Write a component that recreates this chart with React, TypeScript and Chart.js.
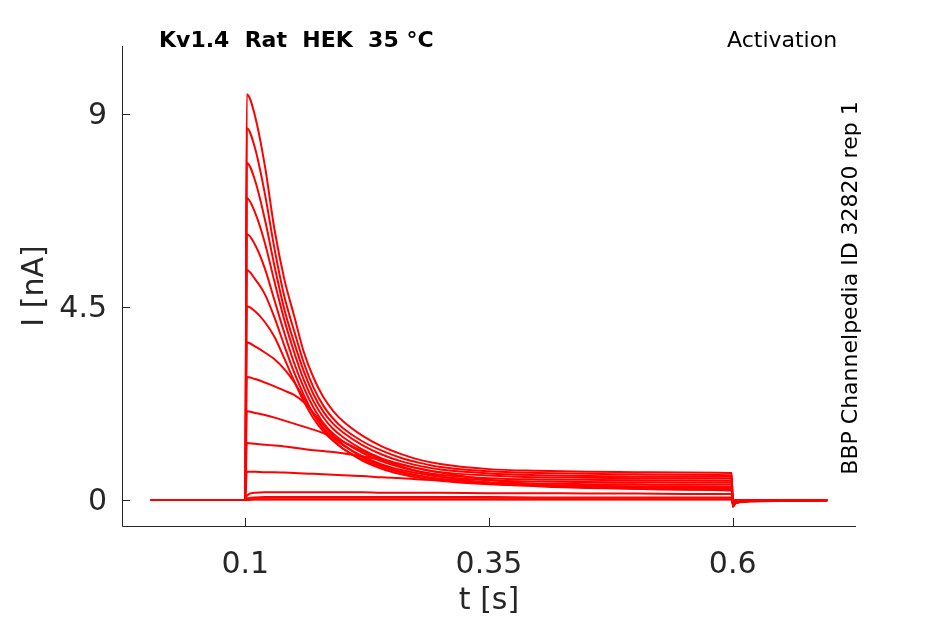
import { useEffect, useRef } from "react";
import { Chart, registerables } from "chart.js";

Chart.register(...registerables);

// sample times [s], shared by every sweep
const times = [
  0.003, 0.1, 0.1015, 0.11, 0.12, 0.13, 0.14, 0.15, 0.16, 0.17, 0.18, 0.19, 0.2,
  0.22, 0.24, 0.26, 0.28, 0.3, 0.35, 0.4, 0.45, 0.5, 0.55, 0.599, 0.6, 0.603,
  0.62, 0.697,
];

// current [nA] per voltage step
const sweepA = [0, 0, 9.46, 8.95, 7.8, 6.3, 5.15, 4.3, 3.45, 2.85, 2.4, 2.08, 1.84, 1.5, 1.25, 1.07, 0.93, 0.84, 0.72, 0.68, 0.66, 0.65, 0.64, 0.63, -0.16, -0.08, -0.03, -0.01];
const sweepB = [0, 0, 8.67, 8.2, 7.15, 5.85, 4.75, 3.95, 3.2, 2.62, 2.2, 1.9, 1.68, 1.37, 1.15, 0.98, 0.86, 0.77, 0.67, 0.63, 0.61, 0.6, 0.59, 0.58, -0.15, -0.07, -0.03, -0.01];
const sweepC = [0, 0, 7.86, 7.45, 6.55, 5.45, 4.45, 3.68, 3.0, 2.46, 2.06, 1.78, 1.58, 1.28, 1.06, 0.9, 0.79, 0.71, 0.62, 0.58, 0.56, 0.55, 0.545, 0.54, -0.14, -0.07, -0.03, -0.01];
const sweepD = [0, 0, 7.04, 6.7, 6.0, 5.08, 4.2, 3.45, 2.8, 2.3, 1.93, 1.66, 1.47, 1.18, 0.97, 0.83, 0.72, 0.65, 0.57, 0.53, 0.52, 0.51, 0.5, 0.5, -0.13, -0.06, -0.02, -0.01];
const sweepE = [0, 0, 6.2, 5.95, 5.4, 4.65, 3.9, 3.2, 2.62, 2.15, 1.8, 1.55, 1.37, 1.1, 0.9, 0.76, 0.66, 0.59, 0.51, 0.48, 0.47, 0.46, 0.455, 0.45, -0.12, -0.06, -0.02, -0.01];
const sweepF = [0, 0, 5.36, 5.15, 4.8, 4.25, 3.6, 2.98, 2.45, 2.0, 1.68, 1.45, 1.28, 1.02, 0.83, 0.7, 0.61, 0.54, 0.46, 0.43, 0.42, 0.415, 0.41, 0.41, -0.11, -0.05, -0.02, 0];
const sweepG = [0, 0, 4.52, 4.4, 4.15, 3.8, 3.3, 2.78, 2.3, 1.9, 1.6, 1.38, 1.2, 0.95, 0.77, 0.64, 0.55, 0.49, 0.41, 0.38, 0.37, 0.365, 0.36, 0.36, -0.1, -0.05, -0.02, 0];
const sweepH = [0, 0, 3.68, 3.58, 3.44, 3.28, 3.05, 2.75, 2.38, 2.0, 1.66, 1.4, 1.2, 0.92, 0.73, 0.6, 0.51, 0.45, 0.37, 0.34, 0.33, 0.32, 0.32, 0.31, -0.09, -0.04, -0.02, 0];
const sweepI = [0, 0, 2.87, 2.82, 2.74, 2.65, 2.55, 2.45, 2.28, 2.03, 1.75, 1.5, 1.3, 1.0, 0.8, 0.66, 0.56, 0.49, 0.38, 0.33, 0.3, 0.29, 0.28, 0.28, -0.08, -0.04, -0.01, 0];
const sweepJ = [0, 0, 2.07, 2.03, 1.98, 1.92, 1.85, 1.78, 1.71, 1.64, 1.56, 1.46, 1.36, 1.14, 0.94, 0.78, 0.65, 0.55, 0.4, 0.32, 0.28, 0.26, 0.25, 0.24, -0.07, -0.03, -0.01, 0];
const sweepK = [0, 0, 1.33, 1.31, 1.29, 1.27, 1.25, 1.22, 1.19, 1.16, 1.14, 1.12, 1.09, 1.02, 0.93, 0.83, 0.73, 0.64, 0.47, 0.36, 0.3, 0.26, 0.24, 0.22, -0.06, -0.03, -0.01, 0];
const sweepL = [0, 0, 0.66, 0.66, 0.65, 0.65, 0.64, 0.63, 0.62, 0.61, 0.6, 0.59, 0.58, 0.56, 0.53, 0.51, 0.48, 0.46, 0.4, 0.35, 0.31, 0.28, 0.26, 0.25, -0.05, -0.02, -0.01, 0];
const sweepM = [0, 0, 0.1, 0.17, 0.18, 0.18, 0.18, 0.18, 0.18, 0.18, 0.18, 0.18, 0.18, 0.18, 0.17, 0.17, 0.17, 0.17, 0.16, 0.16, 0.15, 0.15, 0.14, 0.14, -0.04, -0.02, -0.01, 0];
const sweepN = [0, 0, 0.03, 0.06, 0.07, 0.07, 0.07, 0.07, 0.07, 0.07, 0.07, 0.07, 0.07, 0.07, 0.07, 0.07, 0.07, 0.07, 0.07, 0.06, 0.06, 0.06, 0.06, 0.06, -0.03, -0.01, 0, 0];
const sweepO = [0, 0, 0.01, 0.02, 0.02, 0.02, 0.02, 0.02, 0.02, 0.02, 0.02, 0.02, 0.02, 0.02, 0.02, 0.02, 0.02, 0.02, 0.02, 0.02, 0.02, 0.02, 0.02, 0.02, -0.02, -0.01, 0, 0];
const sweepP = [0, 0, 0, 0.01, 0.01, 0.01, 0.01, 0.01, 0.01, 0.01, 0.01, 0.01, 0.01, 0.01, 0.01, 0.01, 0.01, 0.01, 0.01, 0.01, 0.01, 0.01, 0.01, 0.01, -0.01, 0, 0, 0];

const sweeps = [
  sweepA, sweepB, sweepC, sweepD, sweepE, sweepF, sweepG, sweepH,
  sweepI, sweepJ, sweepK, sweepL, sweepM, sweepN, sweepO, sweepP,
];

const xTicks = [0.1, 0.35, 0.6];
const xTickLabels = ["0.1", "0.35", "0.6"];
const yTicks = [0, 4.5, 9];
const yTickLabels = ["0", "4.5", "9"];

const AXIS = "#262626";
const FONT = "'DejaVu Sans', sans-serif";

// matlab-ish axes: inward ticks, no box, labels and side texts
const decorations = {
  id: "decorations",
  afterDraw(chart: any) {
    const { ctx, chartArea: a, scales } = chart;
    const xs = scales.x;
    const ys = scales.y;
    ctx.save();

    ctx.strokeStyle = AXIS;
    ctx.lineWidth = 1;
    ctx.beginPath();
    ctx.moveTo(a.left + 0.5, a.top);
    ctx.lineTo(a.left + 0.5, a.bottom + 0.5);
    ctx.lineTo(a.right, a.bottom + 0.5);
    xTicks.forEach((v) => {
      const px = Math.round(xs.getPixelForValue(v)) + 0.5;
      ctx.moveTo(px, a.bottom);
      ctx.lineTo(px, a.bottom - 8);
    });
    yTicks.forEach((v) => {
      const py = Math.round(ys.getPixelForValue(v)) + 0.5;
      ctx.moveTo(a.left, py);
      ctx.lineTo(a.left + 8, py);
    });
    ctx.stroke();

    ctx.fillStyle = AXIS;
    ctx.font = `30px ${FONT}`;
    ctx.textBaseline = "middle";
    ctx.textAlign = "right";
    yTicks.forEach((v, i) => {
      ctx.fillText(yTickLabels[i], a.left - 15, ys.getPixelForValue(v) + 2);
    });
    ctx.textBaseline = "alphabetic";
    ctx.textAlign = "center";
    xTicks.forEach((v, i) => {
      ctx.fillText(xTickLabels[i], xs.getPixelForValue(v), a.bottom + 47);
    });

    ctx.fillText("t [s]", (a.left + a.right) / 2, a.bottom + 83);
    ctx.save();
    ctx.translate(43, (a.top + a.bottom) / 2);
    ctx.rotate(-Math.PI / 2);
    ctx.fillText("I [nA]", 0, 0);
    ctx.restore();

    ctx.fillStyle = "#000";
    ctx.textAlign = "left";
    ctx.font = `bold 22px ${FONT}`;
    ctx.fillText("Kv1.4  Rat  HEK  35 °C", 159, 47);
    ctx.font = `22px ${FONT}`;
    ctx.fillText("Activation", 727, 47);

    ctx.textAlign = "center";
    ctx.translate(857, 288);
    ctx.rotate(-Math.PI / 2);
    ctx.fillText("BBP Channelpedia ID 32820 rep 1", 0, 0);

    ctx.restore();
  },
};

function TraceChart() {
  const canvasRef = useRef<HTMLCanvasElement | null>(null);

  useEffect(() => {
    const canvas = canvasRef.current;
    if (!canvas) return;

    const chart = new Chart(canvas, {
      type: "line",
      data: {
        datasets: sweeps.map((sweep, i) => ({
          label: `sweep ${i + 1}`,
          data: times.map((t, j) => ({ x: t, y: sweep[j] })),
          borderColor: "#ff0000",
          borderWidth: 2,
          pointRadius: 0,
          fill: false,
          cubicInterpolationMode: "monotone" as const,
        })),
      },
      options: {
        animation: false,
        responsive: true,
        maintainAspectRatio: false,
        layout: { padding: { left: 122, right: 89, top: 46, bottom: 98 } },
        plugins: {
          legend: { display: false },
          tooltip: { enabled: false },
        },
        scales: {
          x: { type: "linear", min: -0.0265, max: 0.7265, display: false },
          y: { type: "linear", min: -0.606, max: 10.585, display: false },
        },
      },
      plugins: [decorations],
    });

    return () => {
      chart.destroy();
    };
  }, []);

  return <canvas ref={canvasRef} />;
}

export default function App() {
  return (
    <div
      style={{
        position: "absolute",
        left: 0,
        top: 0,
        width: 945,
        height: 624,
        background: "#fff",
      }}
    >
      <TraceChart />
    </div>
  );
}
